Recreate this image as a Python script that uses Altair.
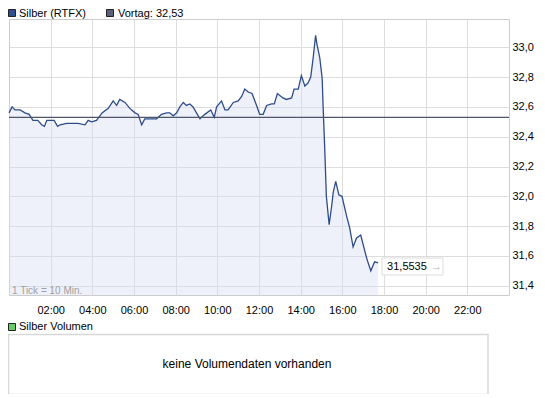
import altair as alt
import pandas as pd

# ---- data (minutes after midnight, price) ----
times_min = [0, 9, 17, 32, 46, 58, 69, 83, 94, 102, 109, 123, 130, 140, 147, 166, 185, 199,
             219, 228, 238, 252, 268, 286, 300, 310, 319, 334, 348, 363, 372, 382, 391, 411,
             425, 439, 454, 463, 473, 483, 492, 502, 511, 521, 530, 540, 550, 564, 581, 591,
             598, 612, 622, 631, 646, 660, 670, 679, 689, 700, 713, 722, 732, 742, 756, 764,
             773, 789, 799, 814, 821, 833, 842, 852, 861, 869, 876, 883, 887, 895, 902, 905,
             909, 914, 922, 929, 934, 941, 950, 959, 972, 981, 991, 1001, 1013, 1025, 1032,
             1042, 1053, 1063]
prices = [32.56, 32.60, 32.58, 32.58, 32.56, 32.55, 32.51, 32.51, 32.48, 32.47, 32.51, 32.51,
          32.51, 32.47, 32.48, 32.49, 32.49, 32.49, 32.48, 32.51, 32.50, 32.51, 32.56, 32.59,
          32.64, 32.61, 32.65, 32.63, 32.59, 32.56, 32.55, 32.48, 32.52, 32.52, 32.52, 32.55,
          32.56, 32.56, 32.54, 32.56, 32.60, 32.63, 32.61, 32.62, 32.60, 32.56, 32.52, 32.55,
          32.58, 32.53, 32.60, 32.64, 32.58, 32.58, 32.63, 32.64, 32.67, 32.72, 32.70, 32.69,
          32.61, 32.55, 32.55, 32.61, 32.62, 32.62, 32.69, 32.66, 32.65, 32.66, 32.72, 32.72,
          32.81, 32.74, 32.76, 32.80, 32.93, 33.08, 33.02, 32.93, 32.79, 32.58, 32.34, 32.00,
          31.81, 31.93, 32.03, 32.10, 32.01, 32.00, 31.87, 31.79, 31.66, 31.72, 31.74, 31.63,
          31.57, 31.50, 31.56, 31.5535]
prev_close = 32.53
series_name = "Silber (RTFX)"
volume_name = "Silber Volumen"
no_volume_text = "keine Volumendaten vorhanden"
tick_note = "1 Tick = 10 Min."
x_tick_hours = [2, 4, 6, 8, 10, 12, 14, 16, 18, 20, 22]
y_tick_values = [31.4, 31.6, 31.8, 32.0, 32.2, 32.4, 32.6, 32.8, 33.0]

FONT = "Liberation Sans"

df = pd.DataFrame({"h": [m / 60 for m in times_min], "p": prices})
last = df.tail(1).assign(label=lambda d: d["p"].map(lambda v: f"{v:.4f}".replace(".", ",")))
one = pd.DataFrame({"a": [0]})

x_enc = alt.X("h:Q", scale=alt.Scale(domain=[0, 24], nice=False, zero=False),
              axis=alt.Axis(values=x_tick_hours, title=None, orient="bottom", tickCount=30,
                            labelExpr="(datum.value < 10 ? '0' : '') + datum.value + ':00'",
                            ticks=False, tickSize=0, domain=False, labelPadding=9,
                            labelFont=FONT, labelFontSize=11, labelColor="#000000",
                            labelOverlap=False,
                            grid=True, gridColor="#DDDDDD", labelFlush=False))
y_enc = alt.Y("p:Q", scale=alt.Scale(domain=[31.3376, 33.19], nice=False, zero=False),
              axis=alt.Axis(values=y_tick_values, title=None, orient="right", tickCount=30,
                            labelExpr="replace(format(datum.value, '.1f'), '.', ',')",
                            ticks=False, tickSize=0, domain=False, labelPadding=3,
                            labelFont=FONT, labelFontSize=11, labelColor="#000000",
                            labelOverlap=False, labelFlush=False,
                            grid=True, gridColor="#DDDDDD"))

area = alt.Chart(df).mark_area(color="#D6DEF3", opacity=0.42, clip=True).encode(x=x_enc, y=y_enc)
line = alt.Chart(df).mark_line(color="#2E4C8A", strokeWidth=1.3).encode(x="h:Q", y="p:Q")
prev = alt.Chart(pd.DataFrame({"p": [prev_close]})).mark_rule(color="#4E566A", strokeWidth=1.4).encode(y="p:Q")

def box(x1, x2, y1, y2, fill, stroke, sw=1):
    return alt.Chart(one).mark_rect(fill=fill, stroke=stroke, strokeWidth=sw).encode(
        x=alt.value(x1), x2=alt.value(x2), y=alt.value(y1), y2=alt.value(y2))

def text(t, x, y, size=11, color="#000000", align="left", baseline="middle"):
    return alt.Chart(one).mark_text(text=t, font=FONT, fontSize=size, color=color,
                                    align=align, baseline=baseline).encode(
        x=alt.value(x), y=alt.value(y))

note = text(tick_note, 3, 275, size=10, color="#A0A0A0", baseline="alphabetic")

lab_box = box(373, 434, 239, 256, "#FFFFFF", "#DDDDDD")
lab_text = alt.Chart(last).mark_text(font=FONT, fontSize=11, color="#000000", align="left",
                                     baseline="middle", dx=9, dy=4).encode(
    x="h:Q", y="p:Q", text="label:N")
arrow = text("\u2192", 422, 247.5, size=11, color="#B0B0B0")

leg1 = box(-0.5, 6.5, -9.5, -2.5, "#2E4E8E", "#222222")
leg1t = text(series_name, 10, -5.5, size=11)
leg2 = box(97.5, 104.5, -9.5, -2.5, "#5A6277", "#222222")
leg2t = text("Vortag: " + f"{prev_close:.2f}".replace(".", ","), 109, -5.5, size=11)

vol_sq = box(-0.5, 6.5, 304.5, 311.5, "#66CC66", "#222222")
vol_t = text(volume_name, 10, 308, size=11)
vol_box = box(-0.5, 479, 315.5, 375.5, "#FFFFFF", "#D8D8D8", 1.5)
vol_msg = text(no_volume_text, 238, 345, size=12, align="center")

chart = alt.layer(area, line, prev, note, lab_box, lab_text, arrow,
                  leg1, leg1t, leg2, leg2t, vol_sq, vol_t, vol_box, vol_msg).properties(
    width=500, height=276, autosize="none",
    padding={"left": 1, "top": 11, "right": 27, "bottom": 99},
    background="#FFFFFF",
).configure_view(stroke="#CCCCCC", strokeWidth=1)

chart.save("out.html", embed_options={"renderer": "svg", "actions": False})
